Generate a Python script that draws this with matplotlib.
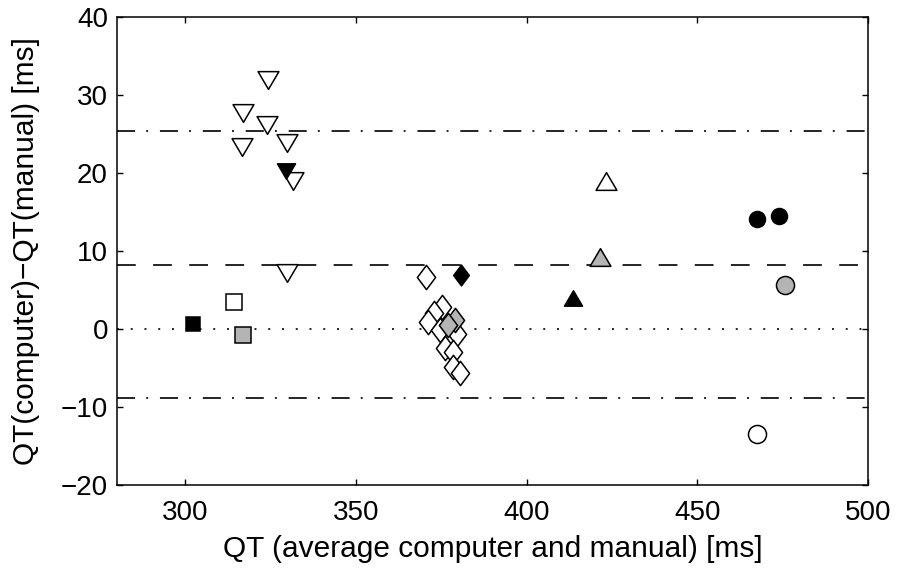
import numpy as np
import matplotlib.pyplot as plt
from matplotlib.path import Path

plt.rcParams['font.family'] = ['Liberation Sans', 'DejaVu Sans']
plt.rcParams['lines.scale_dashes'] = False

# --- data ---
# down triangles (open / filled)
tri_dn_x = [324.1, 317.0, 323.9, 316.7, 329.7, 331.6, 329.7]
tri_dn_y = [31.9, 27.6, 26.1, 23.3, 23.8, 18.9, 7.2]
tri_dn_blk_x = [329.4]
tri_dn_blk_y = [20.2]

# squares
sq_white = (314.2, 3.4)
sq_black = (302.4, 0.6)
sq_gray = (317.0, -0.8)

# diamonds
dia_x = [370.6, 375.1, 373.0, 371.2, 374.6, 379.5, 376.1, 378.5, 378.5, 380.5]
dia_y = [6.7, 2.8, 2.0, 0.9, -0.2, -0.6, -2.5, -2.9, -4.9, -5.7]
dia_gray_x = [379.0, 377.1]
dia_gray_y = [1.1, 0.5]
dia_blk_x = [380.8]
dia_blk_y = [6.9]

# up triangles
tri_up_white = (423.2, 18.9)
tri_up_gray = (421.6, 9.2)
tri_up_black = (413.5, 4.0)

# circles
circ_blk_x = [467.4, 474.0]
circ_blk_y = [14.1, 14.5]
circ_gray = (475.7, 5.6)
circ_white = (467.5, -13.5)

mean_diff = 8.2
sd2 = 17.1

gray = '#b4b4b4'

up_tri = Path([(0, 0.85), (-1, -0.85), (1, -0.85), (0, 0.85)], closed=True)
dn_tri = Path([(0, -0.85), (-1, 0.85), (1, 0.85), (0, -0.85)], closed=True)
diamond = Path([(0, 1), (0.75, 0), (0, -1), (-0.75, 0), (0, 1)], closed=True)

fig = plt.figure(figsize=(8.98, 5.69), dpi=100)
ax = fig.add_axes([117 / 898, 1 - 485 / 569, 751 / 898, 468.3 / 569])

lw = 1.2
ax.axhline(0, color='k', lw=lw, dashes=(1.4, 8.5), zorder=1)
ax.axhline(mean_diff, color='k', lw=lw, dashes=(13.5, 12.5), zorder=1)
for v in (mean_diff + sd2, mean_diff - sd2):
    ax.axhline(v, color='k', lw=lw, dashes=(13, 8, 1.4, 8.5), zorder=1)

mew = 1.1
kw = dict(linestyle='none', markeredgecolor='k', markeredgewidth=mew, zorder=3)

ax.plot(tri_dn_x, tri_dn_y, marker=dn_tri, ms=15, mfc='white', **kw)
ax.plot(tri_dn_blk_x, tri_dn_blk_y, marker=dn_tri, ms=13, mfc='k', **kw)

ax.plot(*sq_white, marker='s', ms=11, mfc='white', **kw)
ax.plot(*sq_black, marker='s', ms=9.5, mfc='k', **kw)
ax.plot(*sq_gray, marker='s', ms=11, mfc=gray, **kw)

ax.plot(dia_x, dia_y, marker=diamond, ms=17.5, mfc='white', **kw)
ax.plot(dia_gray_x, dia_gray_y, marker=diamond, ms=17.5, mfc=gray, **kw)
ax.plot(dia_blk_x, dia_blk_y, marker=diamond, ms=15, mfc='k', **kw)

ax.plot(*tri_up_white, marker=up_tri, ms=15, mfc='white', **kw)
ax.plot(*tri_up_gray, marker=up_tri, ms=15, mfc=gray, **kw)
ax.plot(*tri_up_black, marker=up_tri, ms=13, mfc='k', **kw)

ax.plot(circ_blk_x, circ_blk_y, marker='o', ms=11.5, mfc='k', **kw)
ax.plot(*circ_gray, marker='o', ms=13, mfc=gray, **kw)
ax.plot(*circ_white, marker='o', ms=13, mfc='white', **kw)

ax.set_xlim(280, 500)
ax.set_ylim(-20, 40)
ax.set_xticks([300, 350, 400, 450, 500])
ax.set_yticks([-20, -10, 0, 10, 20, 30, 40])
ax.set_yticklabels(['\u221220', '\u221210', '0', '10', '20', '30', '40'])
ax.tick_params(direction='in', top=True, right=True, length=4.5, width=1,
               labelsize=20)
ax.tick_params(axis='x', pad=11)
ax.tick_params(axis='y', pad=6.5)
for s in ax.spines.values():
    s.set_linewidth(1.1)

ax.set_xlabel('QT (average computer and manual) [ms]', fontsize=21.5)
ax.set_ylabel('QT(computer)\u2212QT(manual) [ms]', fontsize=21.5)
ax.xaxis.set_label_coords(0.5, -0.107)
ax.yaxis.set_label_coords(-0.103, 0.5)

fig.savefig('out.png', dpi=100)
